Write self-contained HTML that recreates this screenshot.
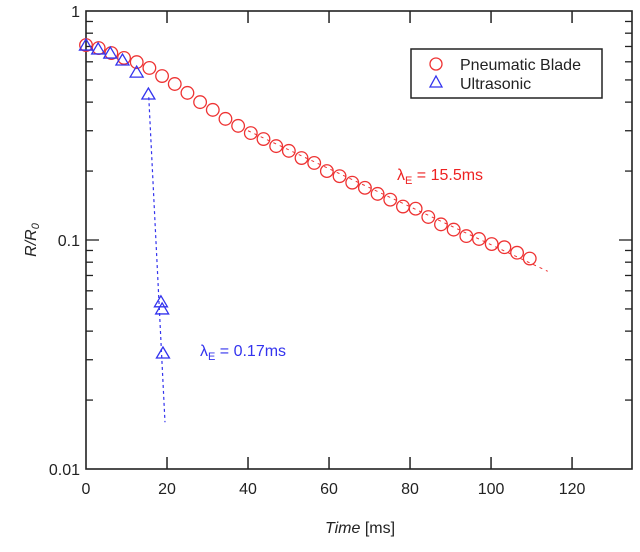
<!DOCTYPE html>
<html><head><meta charset="utf-8"><style>
body{margin:0;background:#fff}
svg text{font-family:"Liberation Sans",Arial,sans-serif}
</style></head><body>
<svg id="chart" width="640" height="547" viewBox="0 0 640 547" xmlns="http://www.w3.org/2000/svg">
<g id="grid"></g>
<g id="marks"></g>
<rect x="411" y="49" width="191" height="49" fill="#fff" stroke="#222" stroke-width="1.5"/>
<circle cx="436" cy="64" r="6" fill="none" stroke="#e33" stroke-width="1.3"/>
<text x="460" y="70" font-size="16" fill="#222">Pneumatic Blade</text>
<polygon points="436,76 442,87 430,87" fill="none" stroke="#33e" stroke-width="1.3"/>
<text x="460" y="89" font-size="16" fill="#222">Ultrasonic</text>
<text x="397" y="180" font-size="16" fill="#e22">λ<tspan font-size="11" dy="4">E</tspan><tspan dy="-4"> = 15.5ms</tspan></text>
<text x="200" y="356" font-size="16" fill="#33e">λ<tspan font-size="11" dy="4">E</tspan><tspan dy="-4"> = 0.17ms</tspan></text>
<text x="360" y="533" font-size="16" text-anchor="middle" fill="#222"><tspan font-style="italic">Time</tspan> [ms]</text>
<text transform="translate(36,240) rotate(-90)" font-size="16" text-anchor="middle" fill="#222" font-style="italic">R/R<tspan font-size="11" dy="3">0</tspan></text>
</svg>
<script>
const xTicks=[0,20,40,60,80,100,120];
const yDecades=[0.01,0.1,1];
const yTickLabels=["0.01","0.1","1"];
const pneuTimes=[0,3.13,6.26,9.39,12.52,15.65,18.78,21.91,25.04,28.17,31.3,34.43,37.56,40.69,43.82,46.95,50.08,53.21,56.34,59.47,62.6,65.73,68.86,71.99,75.12,78.25,81.38,84.51,87.64,90.77,93.9,97.03,100.16,103.29,106.42,109.55];
const pneuValues=[0.710,0.689,0.655,0.624,0.598,0.564,0.520,0.480,0.439,0.400,0.370,0.338,0.315,0.293,0.276,0.257,0.245,0.228,0.217,0.200,0.190,0.178,0.169,0.159,0.150,0.140,0.137,0.126,0.117,0.111,0.104,0.101,0.096,0.093,0.088,0.083];
const ultraTimes=[0,3,6,9,12.5,15.4,18.5,18.8,19.0];
const ultraValues=[0.710,0.683,0.655,0.611,0.541,0.434,0.0537,0.050,0.0321];
const pneuFitT=[40,114];
const pneuFitV=[0.30,0.073];
const ultraFitT=[15.5,19.5];
const ultraFitV=[0.42,0.016];
const L=86,R=632,T=11,B=469,XMAX=134.8;
const X=t=>L+t*(R-L)/XMAX;
const Y=v=>T+(-Math.log10(v))*(B-T)/2;
const NS="http://www.w3.org/2000/svg";
const grid=document.getElementById('grid'),marks=document.getElementById('marks');
function mk(tag,attrs,parent){const e=document.createElementNS(NS,tag);for(const k in attrs)e.setAttribute(k,attrs[k]);parent.appendChild(e);return e;}
const frame=mk('rect',{x:L,y:T,width:R-L,height:B-T,fill:'none',stroke:'#222','stroke-width':1.6},grid);


xTicks.forEach(t=>{
 if(t>0){
  const a=mk('line',{x1:X(t),x2:X(t),y1:B,y2:B-12,stroke:'#222','stroke-width':1.5},grid);
  
  
  const b=mk('line',{x1:X(t),x2:X(t),y1:T,y2:T+12,stroke:'#222','stroke-width':1.5},grid);
  
  
 }
 const tx=mk('text',{x:X(t),y:B+25,'font-size':16,'text-anchor':'middle',fill:'#222'},grid);
 tx.textContent=String(t);
 
 
});
yDecades.forEach((d,i)=>{
 const tx=mk('text',{x:L-6,y:Y(d)+6,'font-size':16,'text-anchor':'end',fill:'#222'},grid);
 tx.textContent=yTickLabels[i];
 
 
 if(i<yDecades.length-1){
  for(let m=1;m<10;m++){
   const v=d*m;const len=m===1?13:7;
   if(m===1&&i===0)continue;
   const a=mk('line',{x1:L,x2:L+len,y1:Y(v),y2:Y(v),stroke:'#222','stroke-width':1.3},grid);
   
   
   const b=mk('line',{x1:R,x2:R-len,y1:Y(v),y2:Y(v),stroke:'#222','stroke-width':1.3},grid);
   
   
  }
 }
});
const f1=mk('line',{x1:X(pneuFitT[0]),y1:Y(pneuFitV[0]),x2:X(pneuFitT[1]),y2:Y(pneuFitV[1]),stroke:'#e33','stroke-width':1,'stroke-dasharray':'3,4'},marks);


const f2=mk('line',{x1:X(ultraFitT[0]),y1:Y(ultraFitV[0]),x2:X(ultraFitT[1]),y2:Y(ultraFitV[1]),stroke:'#33e','stroke-width':1.2,'stroke-dasharray':'3,3'},marks);


pneuTimes.forEach((t,i)=>{
 const c=mk('circle',{cx:X(t),cy:Y(pneuValues[i]),r:6.3,fill:'none',stroke:'#e33','stroke-width':1.3},marks);
 
 
});
ultraTimes.forEach((t,i)=>{
 const x=X(t),y=Y(ultraValues[i]);
 const p=mk('polygon',{points:`${x},${y-6} ${x+6.5},${y+5} ${x-6.5},${y+5}`,fill:'none',stroke:'#33e','stroke-width':1.3},marks);
 
 
});
</script>
</body></html>
